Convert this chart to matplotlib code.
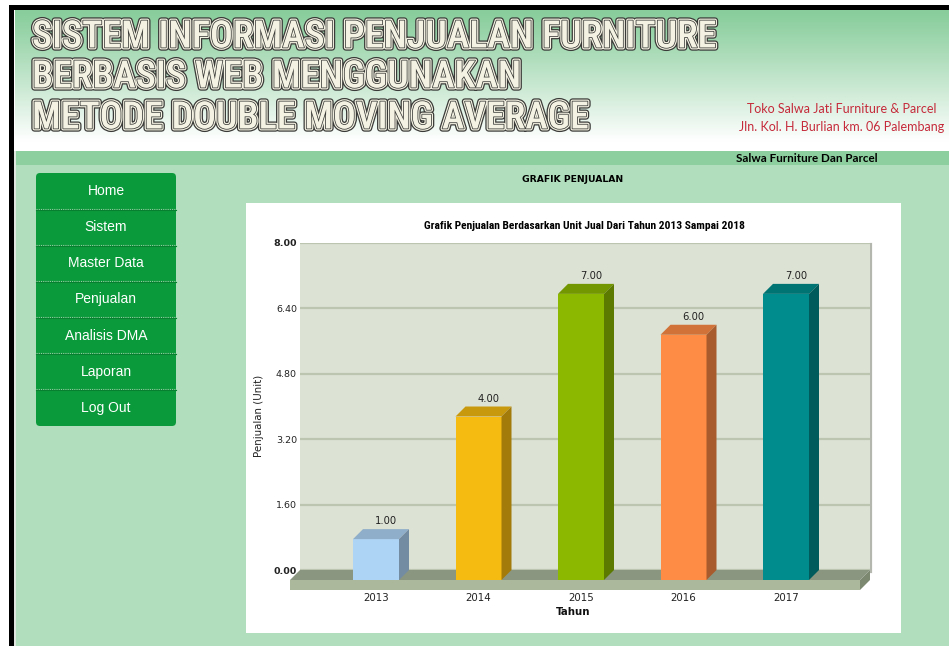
import numpy as np
import matplotlib
matplotlib.use("Agg")
import matplotlib.pyplot as plt
import matplotlib.patheffects as pe
from matplotlib.patches import Rectangle, FancyBboxPatch, Polygon
from matplotlib import font_manager
from matplotlib.colors import to_rgb

# ---------------- data ----------------
years = ["2013", "2014", "2015", "2016", "2017"]
sales = [1, 4, 7, 6, 7]
bar_colors = ["#aed4f5", "#f5bb10", "#8cb800", "#ff8c44", "#008c8c"]
y_ticks = [0.0, 1.6, 3.2, 4.8, 6.4, 8.0]
y_tick_labels = ["0.00", "1.60", "3.20", "4.80", "6.40", "8.00"]
menu_items = ["Home", "Sistem", "Master Data", "Penjualan", "Analisis DMA", "Laporan", "Log Out"]
header_lines = ["SISTEM INFORMASI PENJUALAN FURNITURE",
                "BERBASIS WEB MENGGUNAKAN",
                "METODE DOUBLE MOVING AVERAGE"]
shop_lines = ["Toko Salwa Jati Furniture & Parcel",
              "Jln. Kol. H. Burlian km. 06 Palembang"]
band_text = "Salwa Furniture Dan Parcel"
page_title = "GRAFIK PENJUALAN"
chart_title = "Grafik Penjualan Berdasarkan Unit Jual Dari Tahun 2013 Sampai 2018"
x_title = "Tahun"
y_title = "Penjualan (Unit)"

# ---------------- setup ----------------
W, H = 949, 646
fig = plt.figure(figsize=(W / 100, H / 100), dpi=100)
fig.patch.set_facecolor("white")
renderer = fig.canvas.get_renderer()

avail = {f.name for f in font_manager.fontManager.ttflist}


def pick(*names):
    for n in names:
        if n in avail:
            return n
    return "DejaVu Sans"


NARROW = pick("Liberation Sans Narrow", "Roboto Condensed", "Roboto")
HUMAN = pick("Lato", "Open Sans", "Noto Sans")
ARIAL = pick("Liberation Sans", "Arial")


def fit(t, target):
    w = t.get_window_extent(renderer).width
    t.set_fontsize(t.get_fontsize() * target / w)
    return t.get_fontsize()


bg = fig.add_axes([0, 0, 1, 1], zorder=0)
bg.set_xlim(0, W)
bg.set_ylim(H, 0)
bg.axis("off")

# header gradient
n = 256
t = np.linspace(0, 1, n)[:, None]
ctop = np.array(to_rgb("#88cd9b"))
cbot = np.array([1.0, 1.0, 1.0])
tt = np.clip(t / 0.93, 0, 1) ** 1.1
grad = ctop * (1 - tt) + cbot * tt
bg.imshow(grad[:, None, :], extent=(15, W, 151, 10), aspect="auto",
          interpolation="bilinear", zorder=1)
bg.set_xlim(0, W)
bg.set_ylim(H, 0)

# frame
bg.add_patch(Rectangle((9, 5), 5, H, fc="black", ec="none", zorder=3))
bg.add_patch(Rectangle((9, 5), W, 5, fc="black", ec="none", zorder=3))
# band and body
bg.add_patch(Rectangle((15, 151), W, 14, fc="#8dcf9e", ec="none", zorder=2))
bg.add_patch(Rectangle((16, 165), W, H, fc="#b1debc", ec="none", zorder=2))
bg.add_patch(Rectangle((14, 151), 2, H, fc="#dfe6e0", ec="none", zorder=2))

# header title
outline = [pe.Stroke(linewidth=4.6, foreground="#3a3a38"),
           pe.Stroke(linewidth=2.8, foreground="#f4f2e2"),
           pe.Stroke(linewidth=1.1, foreground="#3a3a38"),
           pe.Normal()]
ys = [37, 77, 118]
htexts = []
for line, yy in zip(header_lines, ys):
    htexts.append(bg.text(32, yy, line, ha="left", va="center", color="#f4f2e2",
                          fontsize=20, family=NARROW, fontweight="medium",
                          path_effects=outline, zorder=5))
fs = fit(htexts[0], 684)
for tx in htexts[1:]:
    tx.set_fontsize(fs)

# shop text
st = []
for line, yy in zip(shop_lines, [109, 127]):
    st.append(bg.text(842, yy, line, ha="center", va="center", color="#c52a3a",
                      fontsize=10, family=HUMAN, zorder=5))
fs = fit(st[1], 204)
st[0].set_fontsize(fs)

tb = bg.text(807, 158, band_text, ha="center", va="center", color="black",
             fontsize=8, family=HUMAN, fontweight="bold", zorder=5)
fit(tb, 141)

# menu
mx, my, mw, mh = 36, 173, 140, 253
bg.add_patch(FancyBboxPatch((mx, my), mw, mh, boxstyle="round,pad=0,rounding_size=4",
                            fc="#0b9a3b", ec="none", zorder=4))
ih = mh / len(menu_items)
for k in range(1, len(menu_items)):
    yy = my + k * ih
    bg.plot([mx, mx + mw], [yy - 0.5, yy - 0.5], color="#9fcfa9", lw=0.8,
            ls=(0, (1, 1)), zorder=5)
    bg.plot([mx, mx + mw], [yy + 0.6, yy + 0.6], color="#07802f", lw=0.8, zorder=5)
for k, item in enumerate(menu_items):
    bg.text(mx + mw / 2, my + ih * (k + 0.5), item, ha="center", va="center",
            color="white", fontsize=10, family=ARIAL, zorder=6)

# page title and chart box
pt = bg.text(573, 180, page_title, ha="center", va="center", fontsize=7.5,
             fontweight="bold", color="black", zorder=5)
fit(pt, 102)
bg.add_patch(Rectangle((246, 203), 655, 430, fc="white", ec="none", zorder=3))
ct = bg.text(584, 226, chart_title, ha="center", va="center", fontsize=7,
             fontweight="bold", family=NARROW, color="black", zorder=5)
fit(ct, 323)
bg.plot([871, 871], [244, 572], color="#b3b7ae", lw=1.6, zorder=4)

# ---------------- chart ----------------
L, R, T, B = 300, 870, 243, 570
ax = fig.add_axes([L / W, 1 - B / H, (R - L) / W, (B - T) / H], zorder=1)
pitch = 102.5
first_center = 386
x0 = (L - first_center) / pitch
x1 = (R - first_center) / pitch
ax.set_xlim(x0, x1)
ax.set_ylim(y_ticks[0], y_ticks[-1])
ppx = pitch
ppy = (B - T) / (y_ticks[-1] - y_ticks[0])
depth = 10
ddx = depth / ppx
ddy = depth / ppy
bw = 46 / ppx
floor_th = 10 / ppy

ax.set_facecolor("#dce2d4")
for s in ax.spines.values():
    s.set_visible(False)
ax.set_axisbelow(True)
ax.yaxis.grid(True, color="#bcc5b0", lw=1.6)

# floor
ax.add_patch(Polygon([(x0, 0), (x1, 0), (x1 - ddx, -ddy), (x0 - ddx, -ddy)],
                     closed=True, fc="#8a9680", ec="none", clip_on=False, zorder=2))
ax.add_patch(Rectangle((x0 - ddx, -ddy - floor_th), x1 - x0, floor_th,
                       fc="#abb89b", ec="none", clip_on=False, zorder=2))
ax.add_patch(Polygon([(x1 - ddx, -ddy), (x1, 0), (x1, -floor_th), (x1 - ddx, -ddy - floor_th)],
                     closed=True, fc="#7d8871", ec="none", clip_on=False, zorder=2))

xs = np.arange(len(years))
ax.bar(xs - ddx, sales, width=bw, bottom=-ddy, color=bar_colors, linewidth=0,
       clip_on=False, zorder=3)
for i, (v, c) in enumerate(zip(sales, bar_colors)):
    rgb = np.array(to_rgb(c))
    xl = i - ddx - bw / 2
    xr = i - ddx + bw / 2
    ax.add_patch(Polygon([(xl, v - ddy), (xr, v - ddy), (xr + ddx, v), (xl + ddx, v)],
                         closed=True, fc=rgb * 0.82, ec="none", clip_on=False, zorder=3))
    ax.add_patch(Polygon([(xr, -ddy), (xr, v - ddy), (xr + ddx, v), (xr + ddx, 0)],
                         closed=True, fc=rgb * 0.66, ec="none", clip_on=False, zorder=3))
    ax.text(i, v + 8 / ppy, f"{v:.2f}", ha="center", va="center", fontsize=7.2,
            color="#222222", zorder=4)

ax.set_yticks(y_ticks)
ax.set_yticklabels(y_tick_labels, fontsize=6.8, color="#222222")
ylabs = ax.get_yticklabels()
ylabs[0].set_fontweight("bold")
ylabs[-1].set_fontweight("bold")
ax.tick_params(axis="y", length=0, pad=2.2)
ax.set_xticks(xs - ddx)
ax.set_xticklabels(years, fontsize=7.4, color="#222222")
ax.tick_params(axis="x", length=0, pad=16.3)

ax.set_ylabel(y_title, fontsize=7.4, color="#222222")
ax.yaxis.set_label_coords((259 - L) / (R - L), (B - 416) / (B - T))
ax.yaxis.label.set_va("center")
ax.set_xlabel(x_title, fontsize=7.4, fontweight="bold", color="#111111")
ax.xaxis.set_label_coords((573 - L) / (R - L), (B - 612) / (B - T))
ax.xaxis.label.set_va("center")

fig.savefig("out.png", dpi=100)
